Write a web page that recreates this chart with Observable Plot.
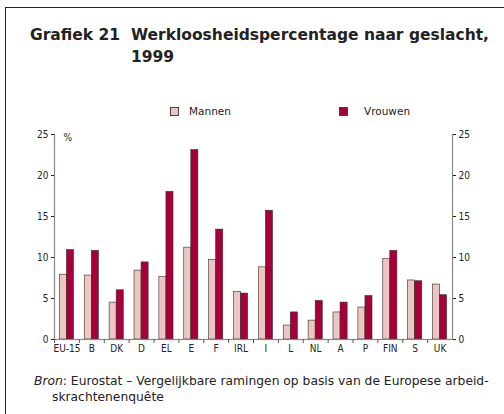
<!DOCTYPE html>
<html><head><meta charset="utf-8">
<script src="https://cdn.jsdelivr.net/npm/d3@7"></script>
<script src="https://cdn.jsdelivr.net/npm/@observablehq/plot@0.6"></script>
<style>
body{margin:0;background:#fff;}
#wrap{position:relative;width:504px;height:414px;overflow:hidden;font-family:"DejaVu Sans",sans-serif;color:#222;}
#frame{position:absolute;left:5px;top:7px;width:520px;height:430px;border-left:1px solid #222;border-top:1px solid #222;}
.t{position:absolute;font-family:"DejaVu Sans",sans-serif;font-weight:bold;font-size:15.5px;line-height:22px;top:24px;white-space:nowrap;}
.leg{position:absolute;top:104px;font-size:10.5px;line-height:14px;white-space:nowrap;}
.sw{position:absolute;top:107px;width:7px;height:7px;border:1px solid #444;}
#cap{position:absolute;left:34px;top:373px;padding-left:18px;text-indent:-18px;font-size:12.3px;line-height:16px;white-space:nowrap;}
#chart{position:absolute;left:0;top:120px;}
</style></head>
<body>
<div id="wrap">
  <div id="frame"></div>
  <div class="t" style="left:30px">Grafiek 21</div>
  <div class="t" style="left:131px">Werkloosheidspercentage naar geslacht,<br>1999</div>
  <div id="legend"></div>
  <div id="chart"></div>
  <div id="cap"><i>Bron</i>: Eurostat – Vergelijkbare ramingen op basis van de Europese arbeid-<br>skrachtenenquête</div>
</div>
<script>
const countries = ["EU-15","B","DK","D","EL","E","F","IRL","I","L","NL","A","P","FIN","S","UK"];
const mannen  = [7.9, 7.8, 4.5, 8.4, 7.6, 11.2, 9.7, 5.8, 8.8, 1.7, 2.3, 3.3, 3.9, 9.8, 7.2, 6.7];
const vrouwen = [10.9, 10.8, 6.0, 9.4, 18.0, 23.1, 13.4, 5.6, 15.7, 3.3, 4.7, 4.5, 5.3, 10.8, 7.1, 5.4];
const series = ["Mannen", "Vrouwen"];
const colors = ["#ecc6c0", "#a6003a"];
const yTicks = [0, 5, 10, 15, 20, 25];

const data = countries.flatMap((c, i) => [
  {land: c, geslacht: series[0], waarde: mannen[i]},
  {land: c, geslacht: series[1], waarde: vrouwen[i]}
]);

// legend
const legend = document.getElementById("legend");
const legPos = [[170, 189], [339, 364]];
series.forEach((s, i) => {
  const sw = document.createElement("div");
  sw.className = "sw"; sw.style.left = legPos[i][0] + "px"; sw.style.background = colors[i];
  const lb = document.createElement("div");
  lb.className = "leg"; lb.style.left = legPos[i][1] + "px"; lb.textContent = s;
  legend.append(sw, lb);
});

const chart = Plot.plot({
  width: 504, height: 243,
  marginLeft: 54, marginRight: 52, marginTop: 14, marginBottom: 24,
  style: {fontFamily: "'Liberation Sans Narrow','DejaVu Sans Condensed',sans-serif", fontSize: "10px", color: "#222", background: "transparent", overflow: "visible"},
  fx: {domain: countries, paddingInner: 0, paddingOuter: 0, round: false, label: null},
  x: {domain: series, paddingInner: 0, paddingOuter: 0.76, round: false, axis: null},
  y: {domain: [0, 25], axis: null},
  color: {domain: series, range: colors},
  marks: [
    Plot.barY(data, {fx: "land", x: "geslacht", y: "waarde", fill: "geslacht", stroke: "#3a2a2a", strokeWidth: 0.6}),
    Plot.ruleY([0], {stroke: "#888", strokeWidth: 1.2}),
    Plot.frame({anchor: "left", stroke: "#888", strokeWidth: 1.2, facetAnchor: "left"}),
    Plot.frame({anchor: "right", stroke: "#888", strokeWidth: 1.2, facetAnchor: "right"}),
    Plot.frame({anchor: "left", stroke: "#555", insetTop: 205, insetBottom: -3}),
    Plot.axisY(yTicks, {anchor: "left", tickSize: 3, tickPadding: 3, label: null}),
    Plot.axisY(yTicks, {anchor: "right", tickSize: 3, tickPadding: 3, label: null}),
    Plot.axisFx({anchor: "bottom", tickSize: 0, tickPadding: 5, label: null}),
    Plot.text(["%"], {frameAnchor: "top-left", textAnchor: "start", dx: 9, dy: -1, facetAnchor: "left"})
  ]
});
document.getElementById("chart").append(chart);
</script>
</body></html>
